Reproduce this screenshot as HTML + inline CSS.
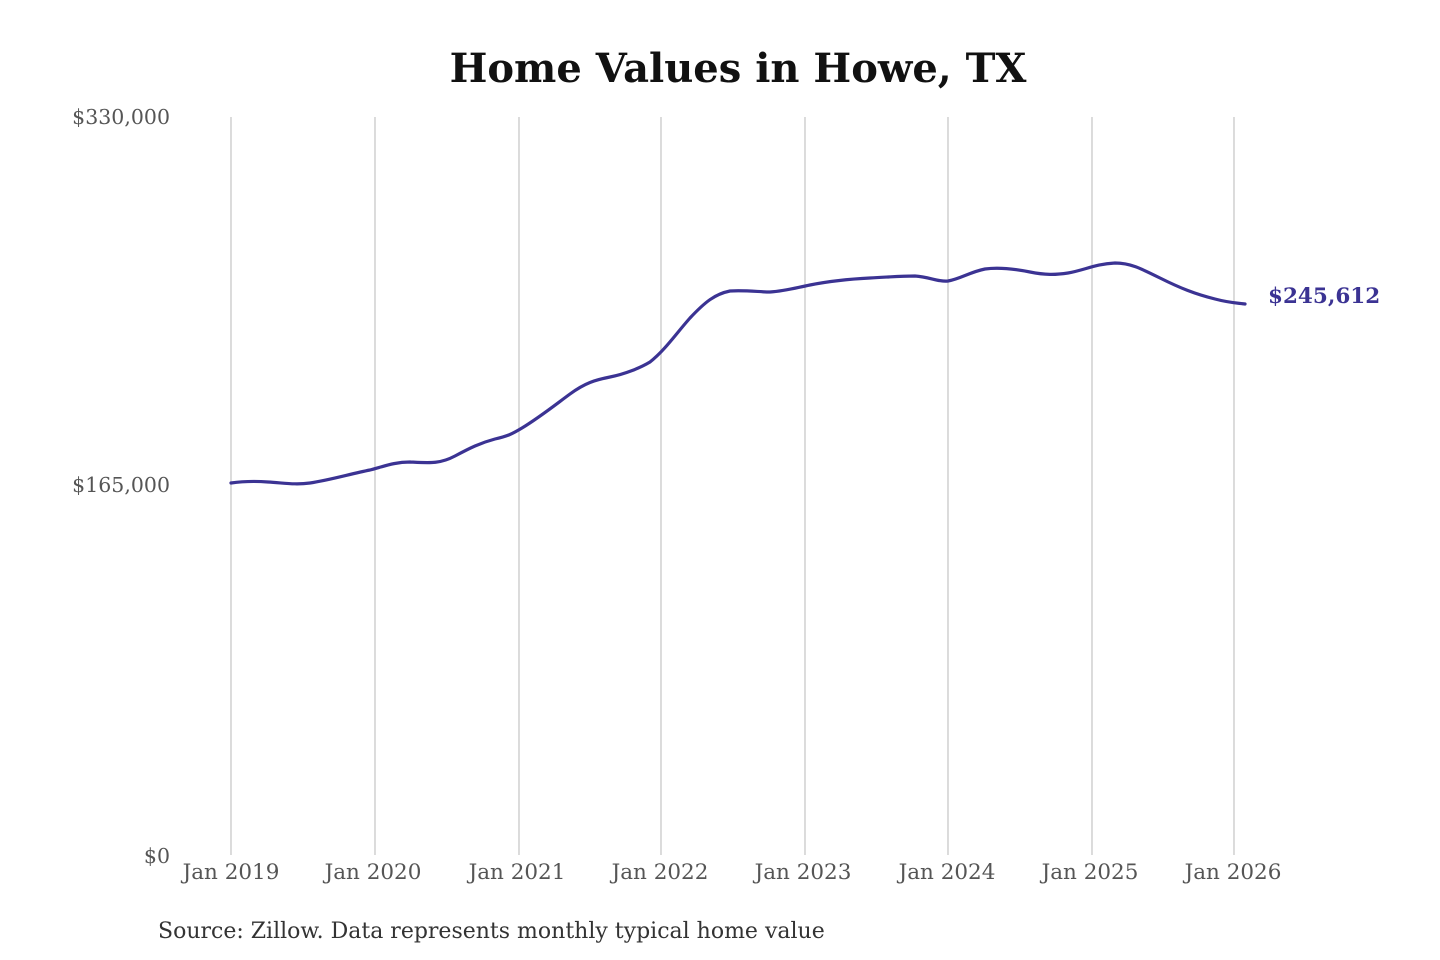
<!DOCTYPE html>
<html><head><meta charset="utf-8"><style>
body{margin:0;background:#fff;}
svg{display:block;font-family:"DejaVu Serif","Liberation Serif",serif;}
</style></head><body>
<svg width="1440" height="960" viewBox="0 0 1440 960">
<text x="738" y="82" text-anchor="middle" font-size="40" font-weight="bold" fill="#111">Home Values in Howe, TX</text>
<g stroke="#c8c8c8" stroke-width="1.3">
<line x1="231" y1="117" x2="231" y2="855"/><line x1="375" y1="117" x2="375" y2="855"/>
<line x1="519" y1="117" x2="519" y2="855"/><line x1="661" y1="117" x2="661" y2="855"/>
<line x1="805" y1="117" x2="805" y2="855"/><line x1="948" y1="117" x2="948" y2="855"/>
<line x1="1092" y1="117" x2="1092" y2="855"/><line x1="1234" y1="117" x2="1234" y2="855"/>
</g>
<g font-size="20.5" fill="#555">
<text x="170" y="124" text-anchor="end">$330,000</text>
<text x="170" y="492" text-anchor="end">$165,000</text>
<text x="170" y="863" text-anchor="end">$0</text>
</g>
<g font-size="21.5" fill="#555" text-anchor="middle">
<text x="231" y="879">Jan 2019</text><text x="373" y="879">Jan 2020</text>
<text x="517" y="879">Jan 2021</text><text x="660" y="879">Jan 2022</text>
<text x="803" y="879">Jan 2023</text><text x="947" y="879">Jan 2024</text>
<text x="1090" y="879">Jan 2025</text><text x="1233" y="879">Jan 2026</text>
</g>
<path fill="none" stroke="#3b3393" stroke-width="3.2" stroke-linejoin="round" stroke-linecap="round"
d="M231,483 C245,481 255,481 268,482 C285,483 295,485 310,483 C330,480 350,474 370,470 C385,466 395,462 410,462 C430,463 440,464 455,456 C470,448 480,443 495,439 C508,436 512,434 522,428 C540,417 555,405 570,394 C585,383 595,380 610,377 C625,374 640,368 650,362 C665,350 675,335 690,318 C705,302 715,294 730,291 C745,290 760,292 770,292 C785,291 795,288 810,285 C830,281 850,279 870,278 C890,277 900,276 915,276 C930,277 938,282 948,281 C960,279 970,272 985,269 C1000,267 1015,269 1030,272 C1045,275 1055,275 1068,273 C1085,270 1095,264 1115,263 C1130,263 1140,268 1160,278 C1180,288 1195,294 1215,299 C1230,303 1238,303 1245,304"/>
<text x="1268" y="303" font-size="21.5" font-weight="bold" fill="#3b3393">$245,612</text>
<text x="158" y="938" font-size="22" fill="#333">Source: Zillow. Data represents monthly typical home value</text>
</svg>
</body></html>
